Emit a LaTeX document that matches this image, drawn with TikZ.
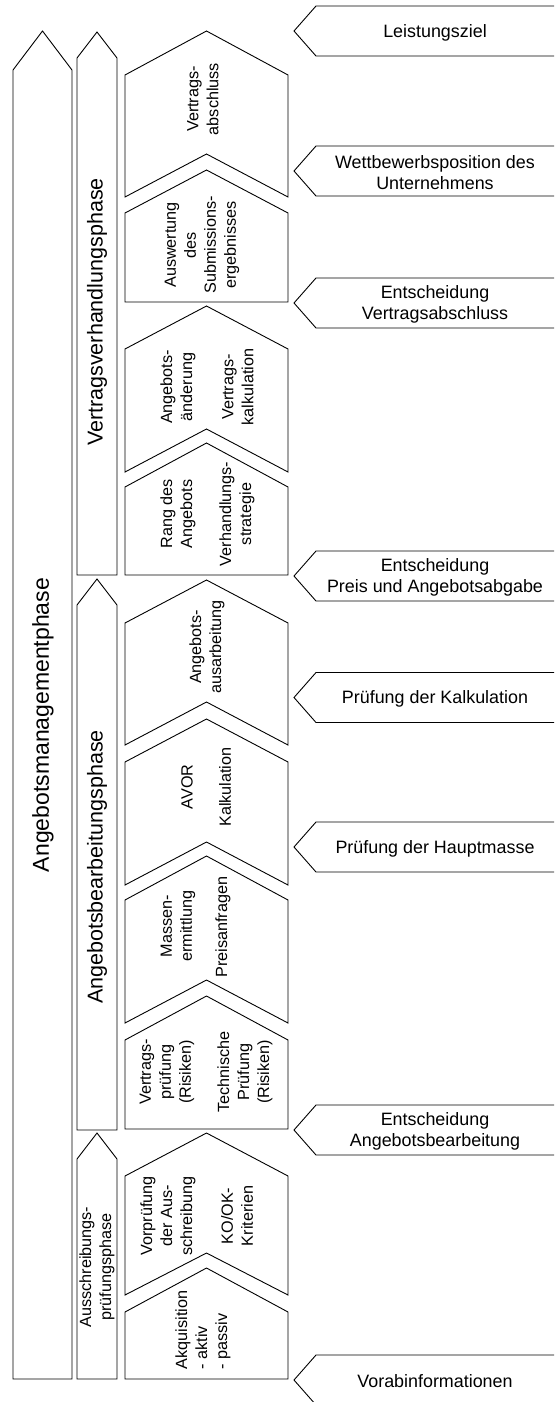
\documentclass[tikz,border=0pt]{standalone}
\usepackage{fontspec}
\setmainfont{Liberation Sans}
\begin{document}
\begin{tikzpicture}[x=1pt,y=-1pt,
  outline/.style={draw=black, line width=0.9pt, fill=white, line join=miter},
  boxtxt/.style={rotate=90, align=center, font=\fontsize{16.2}{20}\selectfont, inner sep=0pt},
  phasetxt/.style={rotate=90, font=\fontsize{21.5}{26}\selectfont, inner sep=0pt},
  sidetxt/.style={align=center, font=\fontsize{17.9}{21.5}\selectfont, inner sep=0pt}]
\useasboundingbox (0,0) rectangle (554,1402);
\clip (0,0) rectangle (554,1402);
% main phase arrow
\draw[outline] (13,1379) -- (13,70) -- (42.5,31) -- (72,70) -- (72,1379) -- cycle;
\node[phasetxt, font=\fontsize{23}{28}\selectfont] (main) at (43,725) {Angebotsmanagementphase};
% phase arrows
\draw[outline] (77,575) -- (77,58) -- (97,32) -- (117,58) -- (117,575) -- cycle;
\node[phasetxt] (pv) at (97,312) {Vertragsverhandlungsphase};
\draw[outline] (77,1130) -- (77,605) -- (97,579) -- (117,605) -- (117,1130) -- cycle;
\node[phasetxt] (pb) at (97,867) {Angebotsbearbeitungsphase};
\draw[outline] (77,1379) -- (77,1159) -- (97,1133) -- (117,1159) -- (117,1379) -- cycle;
\node[boxtxt] (pa) at (97,1267) {Ausschreibungs-\\prüfungsphase};
% step boxes
\draw[outline] (125,197) -- (125,75) -- (206.5,31) -- (288,75) -- (288,197) -- (206.5,154) -- cycle;
\draw[outline] (125,302) -- (125,213) -- (206.5,170) -- (288,213) -- (288,302) -- cycle;
\draw[outline] (125,472) -- (125,349) -- (206.5,306) -- (288,349) -- (288,472) -- (206.5,429) -- cycle;
\draw[outline] (125,575) -- (125,487) -- (206.5,443) -- (288,487) -- (288,575) -- cycle;
\draw[outline] (125,745) -- (125,623) -- (206.5,580) -- (288,623) -- (288,745) -- (206.5,702) -- cycle;
\draw[outline] (125,885) -- (125,762) -- (206.5,719) -- (288,762) -- (288,885) -- (206.5,842) -- cycle;
\draw[outline] (125,1023) -- (125,900) -- (206.5,856) -- (288,900) -- (288,1023) -- (206.5,980) -- cycle;
\draw[outline] (125,1129) -- (125,1040) -- (206.5,996) -- (288,1040) -- (288,1129) -- cycle;
\draw[outline] (125,1295) -- (125,1176) -- (206.5,1133) -- (288,1176) -- (288,1295) -- (206.5,1253) -- cycle;
\draw[outline] (125,1379) -- (125,1312) -- (206.5,1268) -- (288,1312) -- (288,1379) -- cycle;
% box texts
\node[boxtxt] (b1) at (203,99) {Vertrags-\\abschluss};
\node[boxtxt] (b2) at (202,245) {Auswertung\\des\\Submissions-\\ergebnisses};
\node[boxtxt] (b3a) at (178,387) {Angebots-\\änderung};
\node[boxtxt] (b3b) at (238,387) {Vertrags-\\kalkulation};
\node[boxtxt] (b4a) at (178,514) {Rang des\\Angebots};
\node[boxtxt] (b4b) at (237,514) {Verhandlungs-\\strategie};
\node[boxtxt] (b5) at (207,647) {Angebots-\\ausarbeitung};
\node[boxtxt] (b6a) at (187,787) {AVOR};
\node[boxtxt] (b6b) at (225,787) {Kalkulation};
\node[boxtxt] (b7a) at (178,926) {Massen-\\ermittlung};
\node[boxtxt] (b7b) at (223,927) {Preisanfragen};
\node[boxtxt] (b8a) at (167,1072) {Vertrags-\\prüfung\\(Risiken)};
\node[boxtxt] (b8b) at (245,1072) {Technische\\Prüfung\\(Risiken)};
\node[boxtxt] (b9a) at (168,1216) {Vorprüfung\\der Aus-\\schreibung};
\node[boxtxt] (b9b) at (237,1216) {KO/OK-\\Kriterien};
\node[boxtxt, align=left] (b10) at (203,1330) {Akquisition\\- aktiv\\- passiv};
% side arrows (pointing left)
\foreach \yy in {31,171,303,576,697.5,847,1130,1380} {
  \draw[outline] (560,\yy-25) -- (316,\yy-25) -- (294,\yy) -- (316,\yy+25) -- (560,\yy+25) -- cycle;
}
\node[sidetxt] (s1) at (435,32.5) {Leistungsziel};
\node[sidetxt] (s2) at (435,172.5) {Wettbewerbsposition des\\Unternehmens};
\node[sidetxt] (s3) at (435,304.5) {Entscheidung\\Vertragsabschluss};
\node[sidetxt] (s4) at (435,577.5) {Entscheidung\\Preis und Angebotsabgabe};
\node[sidetxt] (s5) at (435,699) {Prüfung der Kalkulation};
\node[sidetxt] (s6) at (435,848.5) {Prüfung der Hauptmasse};
\node[sidetxt] (s7) at (435,1131.5) {Entscheidung\\Angebotsbearbeitung};
\node[sidetxt] (s8) at (435,1381.5) {Vorabinformationen};
\end{tikzpicture}
\end{document}
